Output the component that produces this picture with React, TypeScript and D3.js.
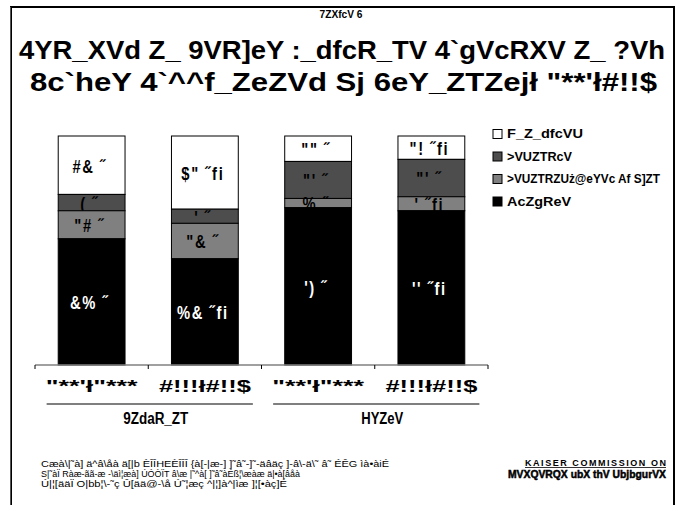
import React from 'react';
import * as d3 from 'd3';

// category / group labels as they appear (font-encoded glyphs)
const years = ['"**\'ł"***', '#!!!ł#!!$', '"**\'ł"***', '#!!!ł#!!$'];
const groups = ['9ZdaR_ZT', 'HYZeV'];

// stacked shares, bottom to top
const privateIns = [54, 45, 68, 66];
const otherPublic = [12, 15, 4, 6];
const medicare = [7, 6, 16, 16];
const uninsured = [25, 31, 11, 10];

// footnote mark on labels
const privateMark = [false, true, false, true];
const otherPublicMark = [false, false, false, true];
const medicareMark = [false, false, false, false];
const uninsuredMark = [false, true, false, true];

const seriesKeys = ['private', 'otherPublic', 'medicare', 'uninsured'];
const seriesNames = ['AcZgReV', '>VUZTRZUż@eYVc Af S]ZT', '>VUZTRcV', 'F_Z_dfcVU'];
const seriesColors = ['#000000', '#808080', '#4d4d4d', '#ffffff'];
const labelColors = ['#ffffff', '#000000', '#000000', '#000000'];
const marks = [privateMark, otherPublicMark, medicareMark, uninsuredMark];

const titleLines = [
  '4YR_XVd Z_ 9VR]eY :_dfcR_TV 4`gVcRXV Z_ ?Vh',
  '8c`heY 4`^^f_ZeZVd Sj 6eY_ZTZejł "**\'ł#!!$',
];
const subtitle = '7ZXfcV 6';
const notes = [
  'Cæà\\|˜à] ä^â\\åà ä[|b ÈÎÎHEÈÎÎÎ {à[-|æ-] ]˜â˜-]˜-äâäç ]-â\\-ä\\˜ â˜ ÉÊG ìà•àiÉ',
  'S|˜àÏ Ràæ-ãã-æ -\\äì¦æà] ÚÓÒÏT â\\æ |˜^à[ ]˜â˜àÉß¦\\æàæ ä|•à[âåà',
  'Ú|¦[ääÏ O|bb¦\\-˜ç Û[ää@-\\å Ú˜¦æç ^|¦]à^|ìæ ]¦[•àç]É',
];
const brand1 = 'KAISER COMMISSION ON';
const brand2 = 'MVXQVRQX ubX thV UbjbgurVX';

const FONT = '"Liberation Sans", Arial, sans-serif';
const code = '!"#$%&\'()*';
const enc = (n: number) => String(n).split('').map(d => code[+d]).join('');

const App = () => {
  const rows = years.map((y, i) => ({
    key: i,
    private: privateIns[i],
    otherPublic: otherPublic[i],
    medicare: medicare[i],
    uninsured: uninsured[i],
  }));
  const stacked = d3.stack<any>().keys(seriesKeys).offset(d3.stackOffsetExpand)(rows);
  const values = [privateIns, otherPublic, medicare, uninsured];

  const x = d3.scaleBand<number>()
    .domain(years.map((_, i) => i))
    .range([35, 488])
    .paddingInner(0.41)
    .paddingOuter(0.205);
  const y = d3.scaleLinear().domain([0, 1]).range([365, 136]);
  const step = x.step();
  const x0 = 35;
  const ticks = d3.range(years.length + 1).map(i => x0 + i * step);

  const legendY = d3.scalePoint<number>().domain([3, 2, 1, 0]).range([134, 201.5]);

  return (
    <svg width={681} height={505} style={{ position: 'absolute', left: 0, top: 0 }} fontFamily={FONT}>
      <rect x={0} y={0} width={681} height={505} fill="#fff" />
      <rect x={11} y={7} width={663} height={510} fill="none" stroke="#000" strokeWidth={2} />
      <line x1={10.5} x2={10.5} y1={7} y2={505} stroke="#555" strokeWidth={1} />

      <text x={341} y={18} textAnchor="middle" fontSize={10} fontWeight="bold"
        textLength={43} lengthAdjust="spacingAndGlyphs">{subtitle}</text>
      <text x={342} y={59} textAnchor="middle" fontSize={26} fontWeight="bold"
        textLength={646} lengthAdjust="spacingAndGlyphs">{titleLines[0]}</text>
      <text x={343.5} y={91} textAnchor="middle" fontSize={26} fontWeight="bold"
        textLength={627} lengthAdjust="spacingAndGlyphs">{titleLines[1]}</text>

      {[3, 2, 1, 0].map(si => (
        <g key={si}>
          {stacked[si].map((d, i) => {
            const bx = x(i)!;
            const bw = x.bandwidth();
            const top = y(d[1]);
            const bot = y(d[0]);
            const cx = bx + bw / 2 - 2;
            const cy = (top + bot) / 2 + 1;
            return (
              <g key={i}>
                <rect x={bx} y={top} width={bw} height={bot - top}
                  fill={seriesColors[si]} stroke="#000" strokeWidth={1} />
                <text transform={`translate(${cx},${cy}) scale(0.82,1)`} dy="0.35em" textAnchor="middle"
                  fontSize={18} fontWeight="bold" letterSpacing={2} fill={labelColors[si]}>
                  {enc(values[si][i]) + ' ˝' + (marks[si][i] ? 'fi' : '')}
                </text>
              </g>
            );
          })}
        </g>
      ))}

      <line x1={x0} x2={ticks[ticks.length - 1]} y1={365} y2={365} stroke="#808080" strokeWidth={1.5} />
      {ticks.map((t, i) => (
        <line key={i} x1={t} x2={t} y1={365} y2={369} stroke="#000" strokeWidth={1} />
      ))}

      {years.map((yl, i) => (
        <text key={i} x={x(i)! + x.bandwidth() / 2} y={392} textAnchor="middle" fontSize={16}
          fontWeight="bold" textLength={92} lengthAdjust="spacingAndGlyphs">{yl}</text>
      ))}
      {groups.map((g, gi) => {
        const c1 = x(gi * 2)! + x.bandwidth() / 2;
        const c2 = x(gi * 2 + 1)! + x.bandwidth() / 2;
        const a = c1 - 45;
        const b = c2 + 48;
        return (
          <g key={gi}>
            <line x1={a} x2={b} y1={404} y2={404} stroke="#000" strokeWidth={1.2} />
            <text x={(a + b) / 2 + 6} y={424} textAnchor="middle" fontSize={16} fontWeight="bold"
              textLength={[65, 42][gi]} lengthAdjust="spacingAndGlyphs">{g}</text>
          </g>
        );
      })}

      {[3, 2, 1, 0].map(si => (
        <g key={si} transform={`translate(493,${legendY(si)})`}>
          <rect x={0} y={-4.5} width={9} height={9} fill={seriesColors[si]} stroke="#000" strokeWidth={1} />
          <text x={14} y={0} dy="0.35em" fontSize={12.5} fontWeight="bold"
            textLength={[64, 153, 65, 76][si]} lengthAdjust="spacingAndGlyphs">{seriesNames[si]}</text>
        </g>
      ))}

      {notes.map((n, i) => (
        <text key={i} x={41} y={467 + i * 10} fontSize={9}
          textLength={[348, 259, 246][i]} lengthAdjust="spacingAndGlyphs">{n}</text>
      ))}
      <text x={666} y={466} textAnchor="end" fontSize={9} fontWeight="bold"
        textLength={141} lengthAdjust="spacing">{brand1}</text>
      <line x1={525} x2={666} y1={467.5} y2={467.5} stroke="#000" strokeWidth={0.8} />
      <text x={666} y={478} textAnchor="end" fontSize={11} fontWeight="bold" stroke="#000" strokeWidth={0.5}
        textLength={158} lengthAdjust="spacingAndGlyphs">{brand2}</text>
    </svg>
  );
};

export default App;
